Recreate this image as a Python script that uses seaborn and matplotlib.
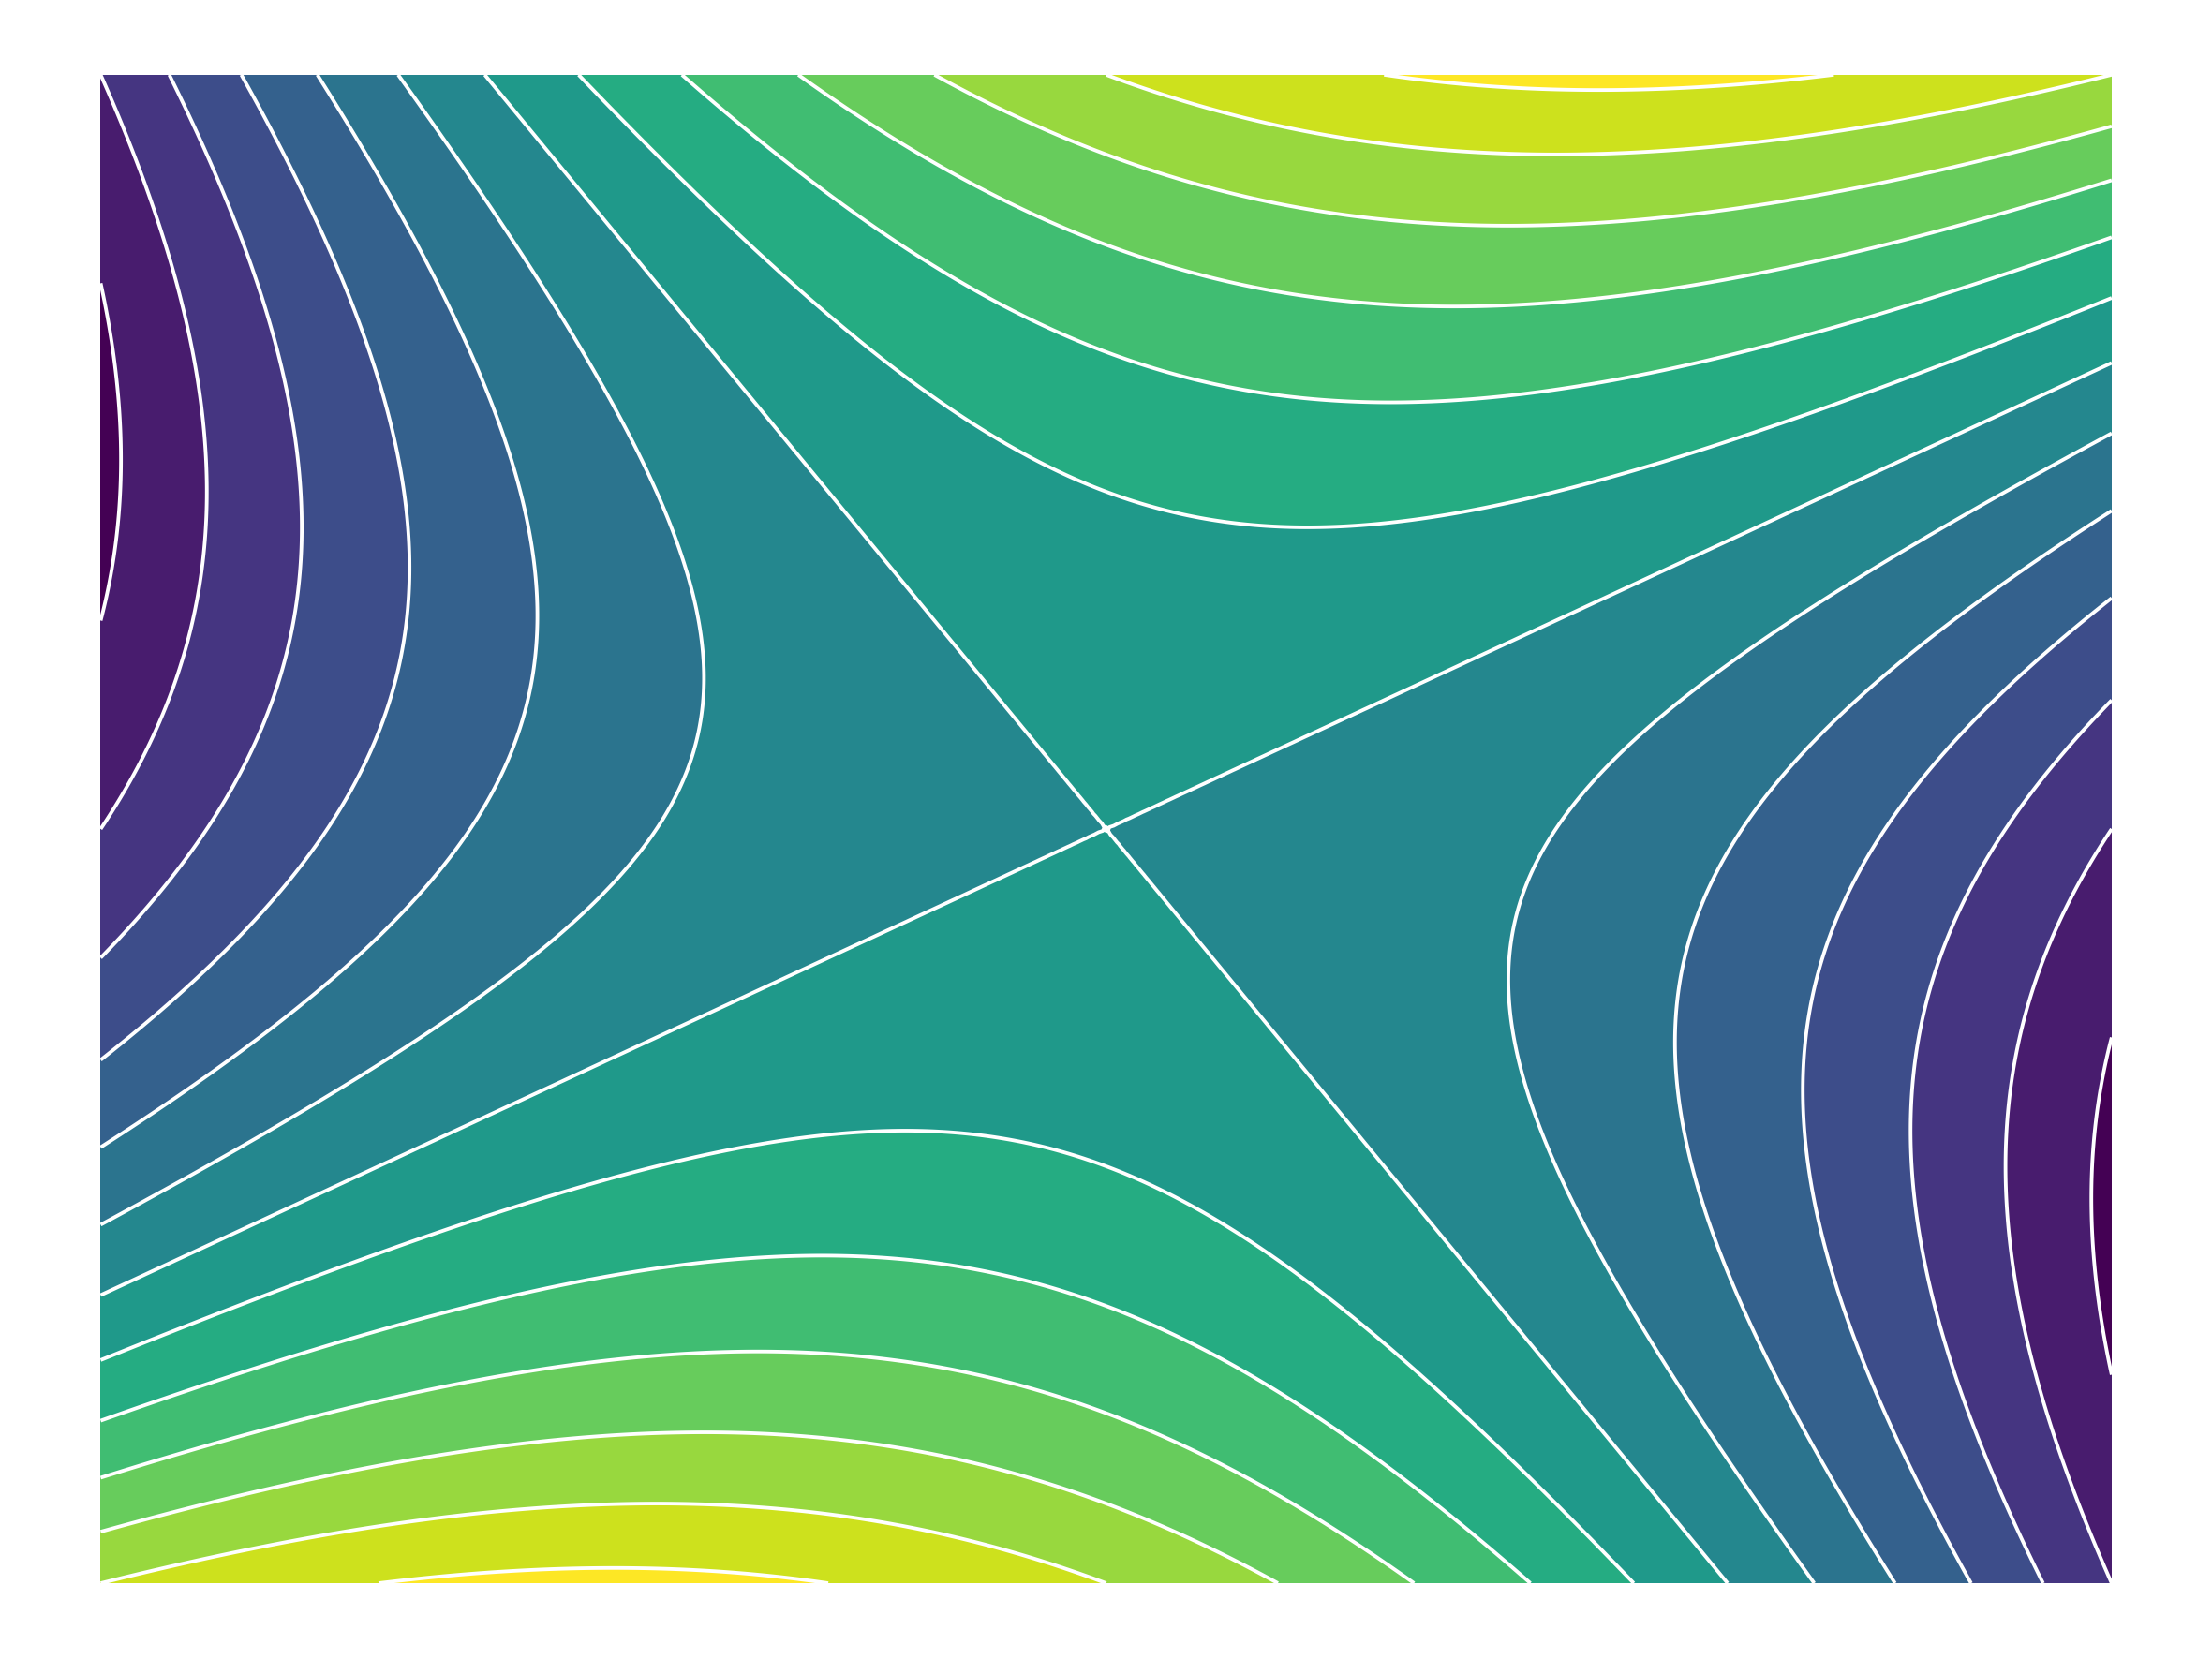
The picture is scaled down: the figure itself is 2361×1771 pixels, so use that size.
import seaborn as sns
import matplotlib.pyplot as plt
import numpy as np

# ---------- DATA ---------- #
x_vals = np.linspace(-1.0, 1.0, 400)
y_vals = np.linspace(-1.0, 1.0, 400)
levels = np.round(np.arange(-1.4, 1.41, 0.2), 2)

X, Y = np.meshgrid(x_vals, y_vals)
Z = Y ** 2 + X * Y - X ** 2  # saddle surface

# ---------- PLOT ---------- #
sns.set_style("white")
cmap = sns.color_palette("viridis", as_cmap=True)
band_colors = cmap(np.linspace(0, 1, len(levels) - 1))

fig = plt.figure(figsize=(6.4, 4.8), dpi=369)
ax = fig.add_axes([0.0455, 0.0457, 0.9089, 0.9091])

ax.contourf(X, Y, Z, levels=levels, colors=band_colors)
ax.contour(X, Y, Z, levels=levels, colors="white",
           linewidths=0.75, linestyles="solid")
ax.set_xlim(-1, 1)
ax.set_ylim(-1, 1)
ax.axis("off")

plt.savefig("out.png", dpi=369)
plt.close()
